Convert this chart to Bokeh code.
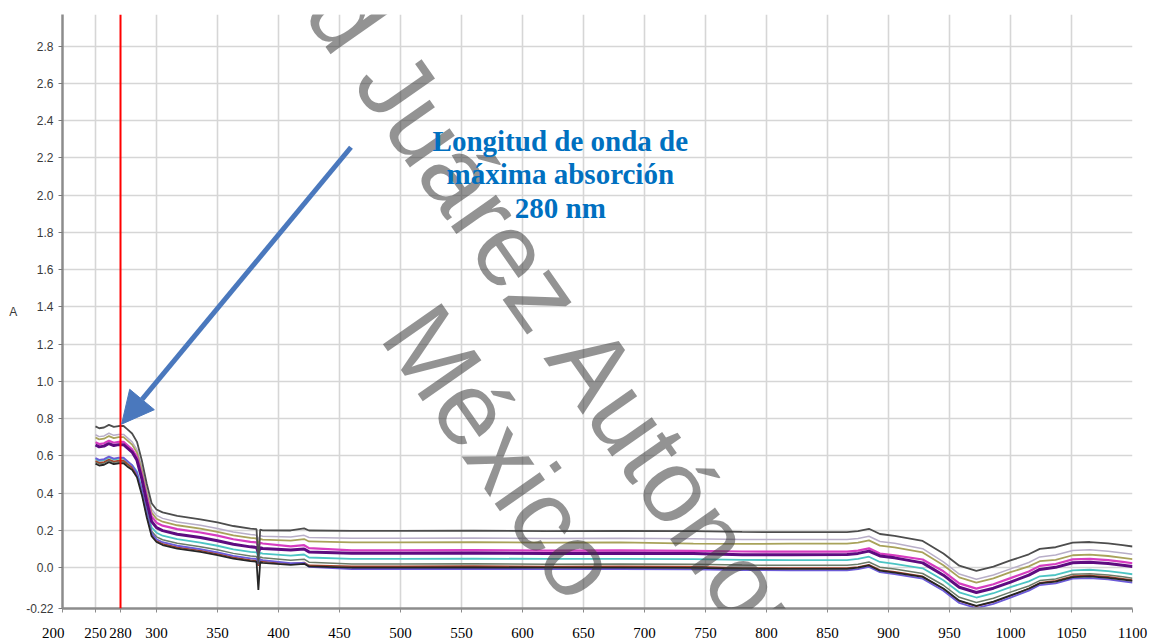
from bokeh.plotting import figure
from bokeh.models import Range1d, FixedTicker, Label, Span, Arrow, NormalHead
from bokeh.embed import file_html
from bokeh.resources import INLINE

# ---------------- data ----------------
wavelength = [250, 253, 257, 261, 265, 269, 273, 276, 280, 284,
              288, 292, 296, 300, 305, 317, 336, 350, 363, 377,
              382, 383.5, 385, 387, 410, 421, 425, 460, 500, 560,
              620, 680, 740, 780, 820, 866, 875, 884, 893, 905,
              928, 945, 958, 972, 986, 1000, 1015, 1024, 1037, 1051,
              1065, 1080, 1092, 1100]

abs_1 = [.758, .748, .752, .766, .755, .760, .760, .743, .720, .675,
         .575, .450, .345, .312, .296, .277, .259, .242, .223, .209,
         .206, .020, .204, .200, .199, .210, .199, .197, .197, .198,
         .196, .197, .195, .191, .190, .190, .196, .208, .180, .170,
         .143, .075, .010, -.018, .005, .038, .071, .100, .109, .134,
         .137, .130, .120, .113]
abs_2 = [.713, .703, .707, .721, .710, .715, .715, .698, .675, .633,
         .537, .415, .313, .280, .264, .245, .227, .210, .191, .177,
         .174, .150, .172, .168, .164, .173, .161, .157, .157, .158,
         .156, .157, .155, .151, .150, .150, .156, .168, .140, .130,
         .101, .030, -.035, -.063, -.040, -.007, .027, .057, .067, .092,
         .095, .088, .078, .071]
abs_3 = [.698, .688, .692, .706, .695, .700, .700, .683, .660, .617,
         .520, .398, .295, .262, .246, .227, .209, .192, .173, .159,
         .156, .130, .154, .150, .145, .153, .140, .135, .135, .136,
         .134, .135, .128, .127, .128, .128, .134, .146, .118, .108,
         .081, .012, -.053, -.081, -.058, -.025, .006, .034, .041, .066,
         .069, .062, .052, .045]
abs_4 = [.673, .663, .667, .681, .670, .675, .675, .658, .635, .594,
         .497, .376, .274, .241, .225, .206, .188, .171, .152, .138,
         .135, .110, .133, .129, .114, .120, .104, .092, .092, .093,
         .091, .092, .090, .086, .085, .085, .091, .103, .075, .065,
         .043, -.020, -.085, -.113, -.090, -.057, -.021, .009, .019, .044,
         .047, .040, .030, .023]
abs_5 = [.658, .648, .652, .666, .655, .660, .660, .643, .620, .576,
         .476, .352, .247, .214, .198, .179, .161, .144, .125, .111,
         .108, .080, .106, .102, .094, .100, .084, .077, .077, .078,
         .076, .077, .075, .068, .068, .070, .076, .088, .062, .052,
         .025, -.041, -.106, -.134, -.111, -.078, -.041, -.010, .001, .026,
         .029, .022, .012, .005]
abs_6 = [.583, .573, .577, .591, .580, .585, .585, .568, .550, .515,
         .425, .310, .215, .187, .171, .152, .134, .117, .098, .084,
         .081, .055, .079, .075, .064, .070, .054, .047, .047, .048,
         .046, .047, .045, .041, .040, .040, .046, .058, .030, .020,
         -.004, -.068, -.133, -.161, -.138, -.105, -.074, -.047, -.040, -.015,
         -.012, -.019, -.029, -.036]
abs_7 = [.568, .558, .562, .576, .565, .570, .570, .553, .535, .500,
         .410, .295, .195, .165, .149, .130, .112, .095, .076, .062,
         .059, .030, .057, .053, .039, .045, .029, .019, .019, .020,
         .018, .019, .017, .013, .012, .012, .018, .030, .002, -.008,
         -.032, -.095, -.160, -.188, -.165, -.132, -.099, -.070, -.061, -.036,
         -.033, -.040, -.050, -.057]
abs_8 = [.558, .548, .552, .566, .555, .560, .560, .543, .525, .485,
         .390, .270, .168, .137, .121, .102, .084, .067, .048, .034,
         .031, -.120, .029, .025, .014, .020, .006, .000, .000, .001,
         -.001, .000, -.002, -.006, -.007, -.007, -.001, .011, -.017, -.027,
         -.050, -.113, -.178, -.206, -.183, -.150, -.114, -.085, -.076, -.051,
         -.048, -.055, -.065, -.072]
abs_9 = [.573, .563, .567, .581, .570, .575, .575, .558, .538, .497,
         .401, .280, .177, .144, .128, .109, .091, .074, .055, .041,
         .038, .010, .036, .032, .021, .027, .012, .007, .007, .008,
         .006, .007, .005, -.002, -.003, -.003, .003, .015, -.013, -.023,
         -.047, -.115, -.180, -.208, -.185, -.152, -.112, -.082, -.071, -.046,
         -.043, -.050, -.060, -.067]
abs_10 = [.588, .578, .582, .596, .585, .590, .590, .573, .550, .507,
          .409, .287, .185, .152, .136, .117, .099, .082, .063, .049,
          .046, .020, .044, .040, .024, .025, .004, -.008, -.008, -.007,
          -.009, -.008, -.010, -.014, -.015, -.015, -.009, .003, -.025, -.035,
          -.060, -.125, -.190, -.218, -.195, -.162, -.124, -.094, -.085, -.060,
          -.057, -.064, -.074, -.081]

series = [abs_2, abs_3, abs_6, abs_7, abs_9, abs_10, abs_8, abs_4, abs_5, abs_1]
series_colors = ["#B8AEC8", "#A8A25A", "#4CC4C4", "#6B7B68", "#A3432A",
                 "#6C5BD8", "#262626", "#D63CC0", "#5E0B80", "#4D4D4D"]
series_widths = [1.5, 1.8, 1.8, 1.5, 1.5, 1.8, 1.8, 2.2, 3.0, 1.8]

y_tick_values = [-0.22, 0.0, 0.2, 0.4, 0.6, 0.8, 1.0, 1.2, 1.4, 1.6, 1.8,
                 2.0, 2.2, 2.4, 2.6, 2.8]
y_tick_labels = ["-0.22", "0.0", "0.2", "0.4", "0.6", "0.8", "1.0", "1.2",
                 "1.4", "1.6", "1.8", "2.0", "2.2", "2.4", "2.6", "2.8"]
y_grid_values = [0.0, 0.2, 0.4, 0.6, 0.8, 1.0, 1.2, 1.4, 1.6, 1.8,
                 2.0, 2.2, 2.4, 2.6, 2.8]
x_grid_values = [250, 300, 350, 400, 450, 500, 550, 600, 650, 700, 750,
                 800, 850, 900, 950, 1000, 1050, 1100]
# bottom labels "200" (at the left corner) and "280" (at the red marker)
extra_x_positions = [223.0, 270.5]
extra_x_labels = ["200\u00a0\u00a0\u00a0\u00a0\u00a0", "280"]

peak_line_x = 270.5
y_label = "A"
note_lines = ["Longitud de onda de", "máxima absorción", "280 nm"]
watermark_lines = ["Universidad Juárez Autónoma de Tabasco.", "México."]

# ---------------- figure ----------------
p = figure(width=1151, height=643,
           x_range=Range1d(222.95, 1100), y_range=Range1d(-0.22, 2.97),
           output_backend="svg", toolbar_location=None,
           min_border_left=62, min_border_right=19,
           min_border_top=14, min_border_bottom=35)
p.outline_line_color = None
p.background_fill_color = "white"
p.border_fill_color = "white"

for ys, c, w in zip(series, series_colors, series_widths):
    p.line(wavelength, ys, line_color=c, line_width=w)

# grids
p.xgrid.ticker = FixedTicker(ticks=x_grid_values)
p.ygrid.ticker = FixedTicker(ticks=y_grid_values)
p.xgrid.grid_line_color = "#d6d6d6"
p.ygrid.grid_line_color = "#d6d6d6"
p.xgrid.grid_line_width = 1.6
p.ygrid.grid_line_width = 1.6

# axes
p.xaxis.ticker = FixedTicker(ticks=extra_x_positions + x_grid_values)
p.xaxis.major_label_overrides = dict(zip(extra_x_positions, extra_x_labels))
p.xaxis.axis_line_color = "#8c8c8c"
p.xaxis.axis_line_width = 2.5
p.xaxis.major_tick_line_color = "#8c8c8c"
p.xaxis.major_tick_out = 4
p.xaxis.major_tick_in = 0
p.xaxis.minor_tick_line_color = None
p.xaxis.major_label_standoff = 12
p.xaxis.major_label_text_font = "Liberation Serif"
p.xaxis.major_label_text_font_size = "15px"
p.xaxis.major_label_text_color = "#000000"

p.yaxis.ticker = FixedTicker(ticks=y_tick_values)
p.yaxis.major_label_overrides = dict(zip(y_tick_values, y_tick_labels))
p.yaxis.axis_line_color = "#8c8c8c"
p.yaxis.axis_line_width = 2.5
p.yaxis.major_tick_line_color = "#7a7a7a"
p.yaxis.major_tick_out = 4
p.yaxis.major_tick_in = 0
p.yaxis.minor_tick_line_color = None
p.yaxis.major_label_standoff = 5
p.yaxis.major_label_text_font = "Liberation Sans"
p.yaxis.major_label_text_font_size = "12px"
p.yaxis.major_label_text_color = "#3a3a3a"
p.yaxis.axis_label = y_label
p.yaxis.axis_label_orientation = "horizontal"
p.yaxis.axis_label_standoff = 6
p.yaxis.axis_label_text_font = "Liberation Sans"
p.yaxis.axis_label_text_font_style = "normal"
p.yaxis.axis_label_text_font_size = "12px"
p.yaxis.axis_label_text_color = "#3a3a3a"

# red peak line
p.add_layout(Span(location=peak_line_x, dimension="height",
                  line_color="#FF0000", line_width=2))

# watermark
wm_x = [677.9, 590.0]
wm_y = [0.893, 0.560]
for t, xv, yv in zip(watermark_lines, wm_x, wm_y):
    p.add_layout(Label(x=xv, y=yv, text=t, angle=-0.960, text_align="center",
                       text_baseline="middle", text_font="Liberation Sans",
                       text_font_size="104px", text_color="#3a3a3a",
                       text_alpha=0.55))

# arrow
p.add_layout(Arrow(x_start=459.4, y_start=2.257, x_end=271.4, y_end=0.770,
                   line_color="#4A78BD", line_width=5,
                   end=NormalHead(size=32, fill_color="#4A78BD",
                                  line_color="#4A78BD")))

# annotation text
note_y = [2.291, 2.112, 1.933]
for t, yv in zip(note_lines, note_y):
    p.add_layout(Label(x=631, y=yv, text=t, text_align="center",
                       text_baseline="alphabetic", text_font="Liberation Serif",
                       text_font_style="bold", text_font_size="29px",
                       text_color="#0070C0"))

open("out.html", "w").write(file_html(p, INLINE))
